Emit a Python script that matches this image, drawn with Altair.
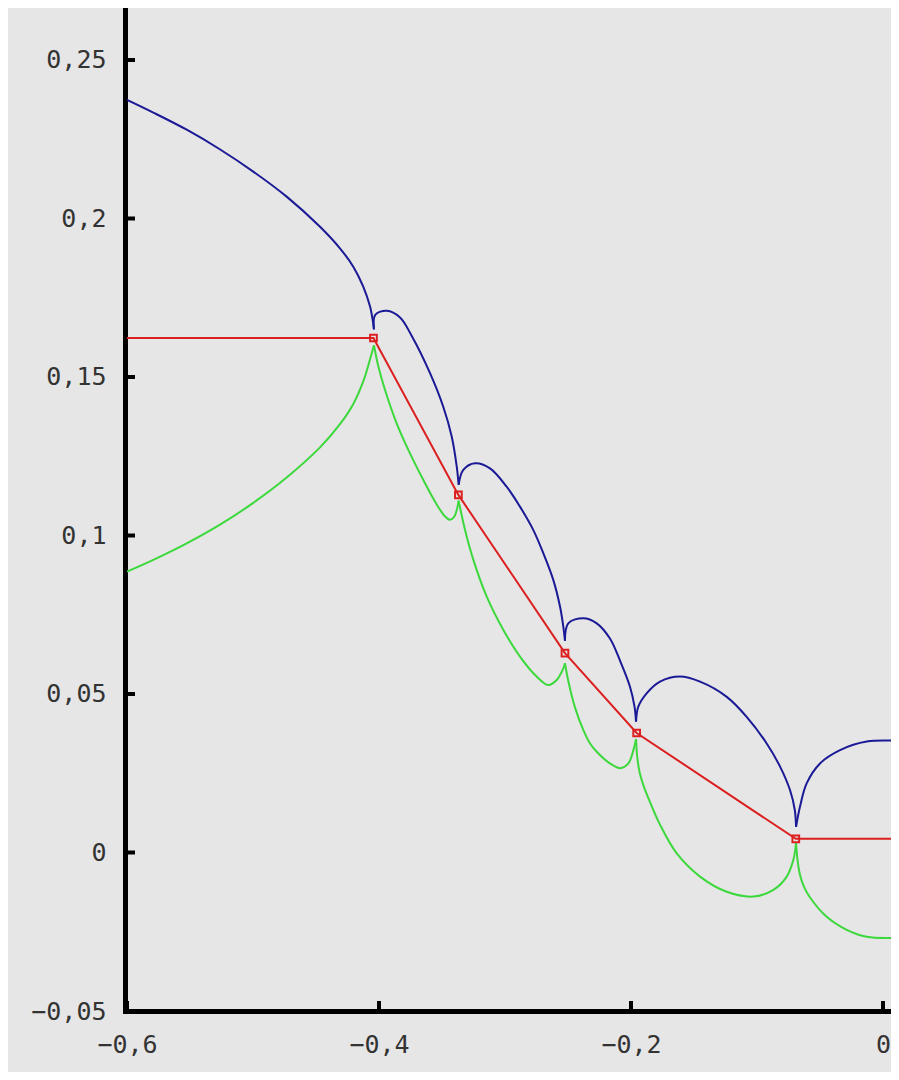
import altair as alt
import pandas as pd

# ---- tick values ----
x_ticks = [-0.6, -0.4, -0.2, 0.0]
y_ticks = [-0.05, 0.0, 0.05, 0.1, 0.15, 0.2, 0.25]

# ---- blue (upper) curve, split into arcs between cusps ----
blue_x = [
    -0.600, -0.5791, -0.5526, -0.5270, -0.4998, -0.4733, -0.4468, -0.4310, -0.4204, -0.4125, -0.4071, -0.4046, -0.4040,
    -0.4040, -0.4030, -0.3939, -0.3833, -0.3741, -0.3595, -0.3490, -0.3423, -0.3383, -0.3368,
    -0.3368, -0.3331, -0.3238, -0.3119, -0.2987, -0.2881, -0.2775, -0.2696, -0.2617, -0.2563, -0.2537, -0.2524,
    -0.2524, -0.2498, -0.2379, -0.2272, -0.2167, -0.2087, -0.2008, -0.1972, -0.1960,
    -0.1960, -0.1942, -0.1876, -0.1770, -0.1611, -0.1452, -0.1240, -0.1082, -0.0923, -0.0817, -0.0738, -0.0700, -0.0690,
    -0.0690, -0.0659, -0.0606, -0.0500, -0.0341, -0.0129, 0.0127,
]
blue_y = [
    0.2374, 0.2334, 0.2280, 0.2220, 0.2148, 0.2069, 0.1974, 0.1906, 0.1848, 0.1785, 0.1722, 0.1669, 0.1650,
    0.1650, 0.1696, 0.1709, 0.1688, 0.1630, 0.1512, 0.1406, 0.1312, 0.1217, 0.1160,
    0.1160, 0.1207, 0.1228, 0.1212, 0.1154, 0.1091, 0.1017, 0.0944, 0.0860, 0.0775, 0.0712, 0.0668,
    0.0668, 0.0723, 0.0739, 0.0723, 0.0675, 0.0605, 0.0523, 0.0460, 0.0413,
    0.0413, 0.0460, 0.0502, 0.0539, 0.0555, 0.0539, 0.0491, 0.0428, 0.0344, 0.0271, 0.0197, 0.0134, 0.0081,
    0.0081, 0.0144, 0.0218, 0.0281, 0.0323, 0.0350, 0.0352,
]
blue_arc = [0] * 13 + [1] * 10 + [2] * 12 + [3] * 9 + [4] * 13 + [5] * 7

# ---- green (lower) curve ----
green_x = [
    -0.600, -0.5791, -0.5526, -0.5262, -0.4998, -0.4733, -0.4468, -0.4310, -0.4204, -0.4125, -0.4071, -0.4040,
    -0.4040, -0.4005, -0.3952, -0.3860, -0.3754, -0.3648, -0.3542, -0.3480, -0.3440, -0.3405, -0.3380, -0.3368,
    -0.3368, -0.3317, -0.3251, -0.3145, -0.3013, -0.2881, -0.2749, -0.2656, -0.2590, -0.2537, -0.2524,
    -0.2524, -0.2498, -0.2444, -0.2378, -0.2325, -0.2272, -0.2167, -0.2087, -0.2021, -0.1981, -0.1960,
    -0.1960, -0.1950, -0.1930, -0.1900, -0.1850, -0.1770, -0.1637, -0.1452, -0.1240, -0.1029, -0.0870, -0.0764, -0.0712, -0.0690,
    -0.0690, -0.0678, -0.0659, -0.0625, -0.0579, -0.0447, -0.0288, -0.0129, 0.0127,
]
green_y = [
    0.0886, 0.0923, 0.0975, 0.1034, 0.1103, 0.1183, 0.1278, 0.1351, 0.1415, 0.1486, 0.1556, 0.1600,
    0.1600, 0.1533, 0.1459, 0.1354, 0.1259, 0.1175, 0.1098, 0.1062, 0.1050, 0.1058, 0.1085, 0.1110,
    0.1110, 0.1017, 0.0923, 0.0807, 0.0702, 0.0618, 0.0555, 0.0528, 0.0544, 0.0581, 0.0597,
    0.0597, 0.0542, 0.0457, 0.0386, 0.0344, 0.0318, 0.0281, 0.0266, 0.0281, 0.0323, 0.0358,
    0.0358, 0.0300, 0.0250, 0.0210, 0.0160, 0.0088, -0.0003, -0.0076, -0.0124, -0.0139, -0.0118, -0.0076, -0.0024, 0.0030,
    0.0030, -0.0025, -0.0070, -0.0110, -0.0142, -0.0203, -0.0244, -0.0266, -0.0269,
]
green_arc = [0] * 12 + [1] * 12 + [2] * 11 + [3] * 11 + [4] * 14 + [5] * 9

# ---- red polyline and its square markers ----
red_x = [-0.600, -0.4044, -0.3370, -0.2524, -0.1955, -0.0692, 0.0127]
red_y = [0.1623, 0.1623, 0.1128, 0.0629, 0.0377, 0.0043, 0.0043]
marker_x = [-0.4044, -0.3370, -0.2524, -0.1955, -0.0692]
marker_y = [0.1623, 0.1128, 0.0629, 0.0377, 0.0043]

W, H = 764, 1003
BLUE, GREEN, RED = "#1a1a96", "#3cd83c", "#dc2020"
FONT = "DejaVu Sans Mono"
LABEL_EXPR = "replace(format(datum.value, '~g'), '.', ',')"

xscale = alt.Scale(domain=[-0.6, 0.00635], nice=False, zero=False)
yscale = alt.Scale(domain=[-0.05, 0.2664], nice=False, zero=False)

xaxis = alt.Axis(values=x_ticks, title=None, grid=False, ticks=False, tickSize=0,
                 domainColor="black", domainWidth=5, domainCap="square",
                 labelFont=FONT, labelFontSize=25, labelColor="#333333",
                 labelPadding=21, labelExpr=LABEL_EXPR, labelFlush=False)
yaxis = alt.Axis(values=y_ticks, title=None, grid=False, ticks=False, tickSize=0,
                 domainColor="black", domainWidth=5, domainCap="square", offset=2,
                 labelFont=FONT, labelFontSize=25, labelColor="#333333",
                 labelPadding=19, labelExpr=LABEL_EXPR, labelFlush=False)

blue_df = pd.DataFrame({"x": blue_x, "y": blue_y, "arc": blue_arc})
green_df = pd.DataFrame({"x": green_x, "y": green_y, "arc": green_arc})
red_df = pd.DataFrame({"x": red_x, "y": red_y, "i": list(range(len(red_x)))})
mark_df = pd.DataFrame({"x": marker_x, "y": marker_y})
xt_df = pd.DataFrame({"x": x_ticks})
yt_df = pd.DataFrame({"y": y_ticks})

X = alt.X("x:Q", scale=xscale, axis=xaxis)
Y = alt.Y("y:Q", scale=yscale, axis=yaxis)

blue = alt.Chart(blue_df).mark_line(color=BLUE, strokeWidth=2, interpolate="catmull-rom", clip=True).encode(
    x=X, y=Y, detail="arc:N", order="x:Q")
green = alt.Chart(green_df).mark_line(color=GREEN, strokeWidth=2, interpolate="catmull-rom", clip=True).encode(
    x=X, y=Y, detail="arc:N", order="x:Q")
red = alt.Chart(red_df).mark_line(color=RED, strokeWidth=2, clip=True).encode(
    x=X, y=Y, order="i:Q")
markers = alt.Chart(mark_df).mark_point(shape="square", filled=False, size=45, strokeWidth=2,
                                        color=RED, opacity=1).encode(x=X, y=Y)

yticks = alt.Chart(yt_df).mark_rule(color="black", strokeWidth=4).encode(
    y=Y, x=alt.value(0), x2=alt.value(8))
xticks = alt.Chart(xt_df).mark_rule(color="black", strokeWidth=4).encode(
    x=X, y=alt.value(H), y2=alt.value(H - 10))

chart = alt.layer(green, blue, red, markers, yticks, xticks).properties(
    width=W, height=H,
    padding={"left": 119, "top": 0, "right": 0, "bottom": 61},
    autosize="none",
    background="#e6e6e6",
).configure_view(stroke=None)

chart.save("out.html", embed_options={"renderer": "svg", "actions": False})
